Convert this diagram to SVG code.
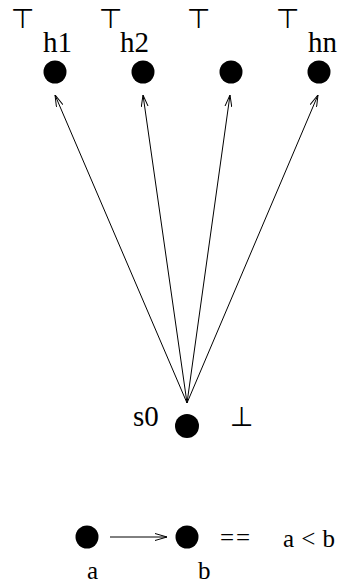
<svg xmlns="http://www.w3.org/2000/svg" width="340" height="585" viewBox="0 0 340 585">
<defs>
<style>
.t{font-family:"Liberation Serif","Times New Roman",Times,serif;fill:#000}
.big{font-size:29px}
.sm{font-size:25px}
.sym{font-family:"DejaVu Sans",sans-serif;font-size:27px;fill:#000}
.node{fill:#000}
.edge{stroke:#000;stroke-width:1;fill:none;marker-end:url(#ah)}
</style>
<marker id="ah" viewBox="0 0 12 8" refX="12" refY="4" markerWidth="12" markerHeight="8" markerUnits="userSpaceOnUse" orient="auto">
<polyline points="0,0.5 12,4 0,7.5" fill="none" stroke="#000" stroke-width="1"/>
</marker>
</defs>
<rect width="340" height="585" fill="#fff"/>
<g id="connectors">
<line class="edge" x1="187" y1="403" x2="55" y2="95"/>
<line class="edge" x1="187" y1="403" x2="143" y2="95"/>
<line class="edge" x1="187" y1="403" x2="230" y2="95"/>
<line class="edge" x1="187" y1="403" x2="318" y2="95"/>
<line class="edge" x1="110" y1="537" x2="167" y2="537"/>
</g>
<g id="h1"><circle class="node" cx="55" cy="72" r="11.5"/><text class="t big" font-family="Liberation Serif" x="43" y="52">h1</text><text class="sym" x="11" y="28">⊤</text></g>
<g id="h2"><circle class="node" cx="143" cy="72" r="11.5"/><text class="t big" font-family="Liberation Serif" x="120" y="52">h2</text><text class="sym" x="99" y="28">⊤</text></g>
<g id="h3"><circle class="node" cx="231" cy="72" r="11.5"/><text class="sym" x="187" y="28">⊤</text></g>
<g id="hn"><circle class="node" cx="319" cy="72" r="11.5"/><text class="t big" font-family="Liberation Serif" x="308" y="52">hn</text><text class="sym" x="276" y="28">⊤</text></g>
<g id="s0"><circle class="node" cx="187" cy="426" r="12"/><text class="t big" font-family="Liberation Serif" x="133" y="426">s0</text><text class="sym" x="230" y="426">⊥</text></g>
<g id="a"><circle class="node" cx="87" cy="537" r="11.5"/><text class="t sm" font-family="Liberation Serif" x="87" y="579">a</text></g>
<g id="b"><circle class="node" cx="187" cy="537" r="11.5"/><text class="t sm" font-family="Liberation Serif" x="198" y="579">b</text></g>
<g id="legend"><text class="t sm" font-family="Liberation Serif" x="220" y="546" textLength="30">==</text><text class="t sm" font-family="Liberation Serif" x="283" y="547" textLength="52">a &lt; b</text></g>
</svg>
